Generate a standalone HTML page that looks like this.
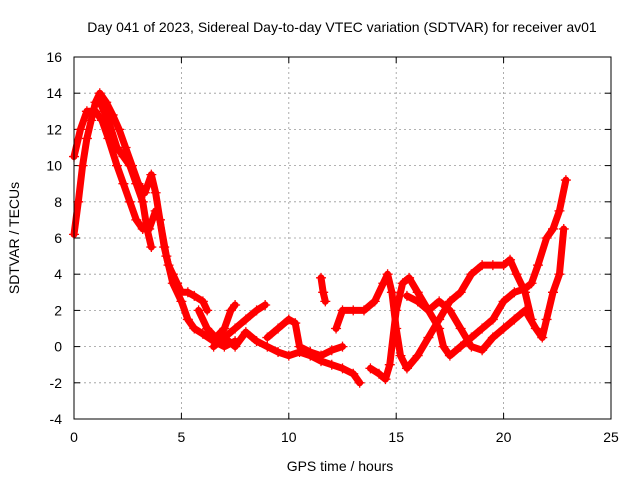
<!DOCTYPE html>
<html><head><meta charset="utf-8"><style>
body{margin:0;background:#fff;font-family:"Liberation Sans",sans-serif}
svg text{font-family:"Liberation Sans",sans-serif;font-size:14px;fill:#000}
</style></head><body>
<svg id="chart" width="640" height="480" viewBox="0 0 640 480" xmlns="http://www.w3.org/2000/svg">
<text x="342" y="32" text-anchor="middle">Day 041 of 2023, Sidereal Day-to-day VTEC variation (SDTVAR) for receiver av01</text>
<text x="340" y="471" text-anchor="middle">GPS time / hours</text>
<text transform="translate(19,238) rotate(-90)" text-anchor="middle">SDTVAR / TECUs</text>
<g id="grid"></g><g id="ticks"></g><g id="marks"></g>
<rect x="74" y="57" width="537" height="362" fill="none" stroke="#000"/>
</svg>
<script>
const xTicks=[0,5,10,15,20,25];
const yTicks=[-4,-2,0,2,4,6,8,10,12,14,16];
const t1x=[0,0.2,0.4,0.6,0.8,1,1.2,1.5,1.8,2.1,2.4,2.7,3,3.3,3.6,3.8,4,4.2,4.4,4.6,4.8,5,5.3,5.6,6,6.2];
const t1y=[6.2,8,10,11.5,12.5,13.5,14,13.5,12.8,12,11,10,9,8.5,9.5,8.5,7,5.5,4.5,4,3.5,3,3,2.8,2.5,2];
const t2x=[0,0.3,0.6,1,1.3,1.6,2,2.3,2.6,2.9,3.2,3.5,3.8,4,4.3,4.6,5,5.3,5.6,6,6.5,7,7.5];
const t2y=[10.5,12,13,13,12.5,11.5,10,9,8,7,6.5,6.5,7.5,7,5,3.5,2.5,1.5,1,0.7,0.3,0,0.3];
const t3x=[1.2,1.6,2,2.3,2.6,2.9,3.2,3.4,3.6];
const t3y=[13.5,12.5,11,10.5,10,9,8,6.5,5.5];
const t4x=[5.8,6.2,6.6,7,7.3,7.5];
const t4y=[2,1,0.5,1,2,2.3];
const t5x=[7,7.5,8,8.5,8.9];
const t5y=[0.5,1,1.5,2,2.3];
const t6x=[6.5,7,7.5,8,8.5,9,9.5,10,10.5,11,11.5,12,12.5,13,13.3];
const t6y=[0,0.5,0,0.8,0.3,0,-0.3,-0.5,-0.3,-0.5,-0.8,-1,-1.2,-1.5,-2];
const t7x=[9,9.5,10,10.3,10.5,11,11.5,12,12.5];
const t7y=[0.5,1,1.5,1.3,0,-0.3,-0.5,-0.2,0];
const t8x=[12.2,12.5,13,13.5,14,14.4,14.6,14.8,15,15.2,15.5,16,16.5,17,17.5,18,18.5,19,19.5,20,20.3,20.6,21,21.3];
const t8y=[1,2,2,2,2.5,3.5,4,3,1,-0.5,-1.2,-0.5,0.5,1.5,2.5,3,4,4.5,4.5,4.5,4.8,4,3,1.5];
const t9x=[13.8,14.2,14.5,14.7,15,15.3,15.6,16,16.5,17,17.2,17.5,18,18.5,19,19.5,20,20.5,21,21.3,21.6,22,22.3,22.6,22.9];
const t9y=[-1.2,-1.5,-1.8,-1,2,3.5,3.8,3,2,1,0,-0.5,0,0.5,1,1.5,2.5,3,3.2,3.5,4.5,6,6.5,7.5,9.2];
const t10x=[15.5,16,16.5,17,17.5,18,18.5,19,19.5,20,20.5,21,21.5,21.8,22,22.3,22.6,22.8];
const t10y=[2.8,2.5,2,2.5,2,1,0,-0.2,0.5,1,1.5,2,1,0.5,1.5,3,4,6.5];
const t12x=[11.5,11.6,11.7];
const t12y=[3.8,3,2.5];
const tracksX=[t1x,t2x,t3x,t4x,t5x,t6x,t7x,t8x,t9x,t10x,t12x];
const tracksY=[t1y,t2y,t3y,t4y,t5y,t6y,t7y,t8y,t9y,t10y,t12y];
const X0=74,X1=611,Y0=419,Y1=57;
const sx=v=>X0+(v-0)/(25-0)*(X1-X0);
const sy=v=>Y0-(v+4)/(16+4)*(Y0-Y1);
const NS="http://www.w3.org/2000/svg";
const grid=document.getElementById('grid'),ticks=document.getElementById('ticks'),marks=document.getElementById('marks');
function mk(tag,attrs,parent){const e=document.createElementNS(NS,tag);for(const k in attrs)e.setAttribute(k,attrs[k]);parent.appendChild(e);return e;}
xTicks.forEach(v=>{const x=sx(v);
 if(v>0&&v<25){const g=mk('line',{x1:x,x2:x,y1:Y1,y2:Y0,stroke:'#999','stroke-dasharray':'2,3','stroke-width':0.8},grid);
 
 }
 mk('line',{x1:x,x2:x,y1:Y0,y2:Y0-6,stroke:'#000'},ticks);mk('line',{x1:x,x2:x,y1:Y1,y2:Y1+6,stroke:'#000'},ticks);
 const t=mk('text',{x:x,y:Y0+23,'text-anchor':'middle'},ticks);t.textContent=v;
 
 });
yTicks.forEach(v=>{const y=sy(v);
 if(v>-4&&v<16){const g=mk('line',{x1:X0,x2:X1,y1:y,y2:y,stroke:'#999','stroke-dasharray':'2,3','stroke-width':0.8},grid);
 
 }
 mk('line',{x1:X0,x2:X0+6,y1:y,y2:y,stroke:'#000'},ticks);mk('line',{x1:X1,x2:X1-6,y1:y,y2:y,stroke:'#000'},ticks);
 const t=mk('text',{x:X0-12,y:y+5,'text-anchor':'end'},ticks);t.textContent=v;
 
 });
tracksX.forEach((xs,i)=>{const ys=tracksY[i];
 const pts=xs.map((x,j)=>sx(x)+','+sy(ys[j])).join(' ');
 const pl=mk('polyline',{points:pts,fill:'none',stroke:'#f00','stroke-width':7,'stroke-linejoin':'round','stroke-linecap':'round'},marks);
 
 
 xs.forEach((x,j)=>{const px=sx(x),py=sy(ys[j]);
  const p=mk('path',{d:`M${px-5},${py}h10M${px},${py-5}v10`,stroke:'#f00','stroke-width':1.3},marks);
  
  });});
</script>
</body></html>
